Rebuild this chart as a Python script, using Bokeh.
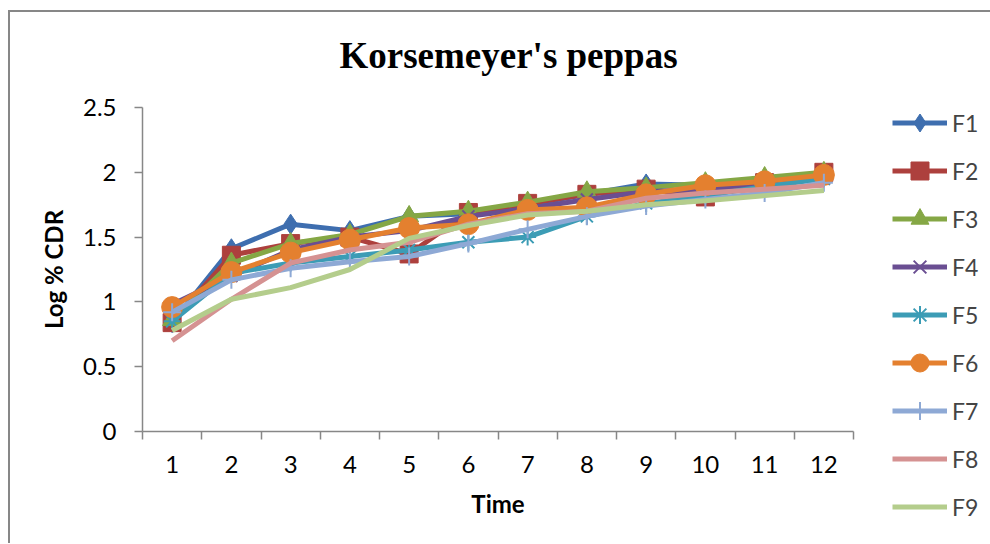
from bokeh.plotting import figure
from bokeh.models import Range1d, FixedTicker, Legend, LegendItem
from bokeh.embed import file_html
from bokeh.resources import INLINE

# ---------------- data ----------------
time = [1, 2, 3, 4, 5, 6, 7, 8, 9, 10, 11, 12]
F1 = [0.84, 1.41, 1.60, 1.55, 1.66, 1.68, 1.75, 1.83, 1.91, 1.90, 1.94, 1.98]
F2 = [0.84, 1.36, 1.45, 1.50, 1.37, 1.69, 1.76, 1.83, 1.87, 1.81, 1.92, 2.00]
F3 = [0.86, 1.30, 1.45, 1.52, 1.66, 1.70, 1.77, 1.85, 1.88, 1.92, 1.96, 2.00]
F4 = [0.98, 1.20, 1.40, 1.50, 1.55, 1.66, 1.72, 1.79, 1.85, 1.87, 1.91, 1.95]
F5 = [0.85, 1.22, 1.30, 1.35, 1.40, 1.46, 1.50, 1.66, 1.76, 1.82, 1.89, 1.95]
F6 = [0.96, 1.23, 1.38, 1.48, 1.57, 1.60, 1.71, 1.73, 1.83, 1.90, 1.93, 1.98]
F7 = [0.92, 1.17, 1.26, 1.31, 1.35, 1.45, 1.56, 1.66, 1.74, 1.79, 1.84, 1.92]
F8 = [0.70, 1.02, 1.30, 1.40, 1.46, 1.60, 1.68, 1.70, 1.80, 1.84, 1.87, 1.90]
F9 = [0.78, 1.02, 1.11, 1.25, 1.49, 1.59, 1.67, 1.70, 1.75, 1.78, 1.82, 1.86]
series_names = ["F1", "F2", "F3", "F4", "F5", "F6", "F7", "F8", "F9"]
series_values = [F1, F2, F3, F4, F5, F6, F7, F8, F9]
y_ticks = [0, 0.5, 1, 1.5, 2, 2.5]
y_tick_labels = ["0", "0.5", "1", "1.5", "2", "2.5"]

# ---------------- styles ----------------
colors = ["#3E6EAF", "#AD403D", "#85A745", "#6A4E92", "#3C9CB5",
          "#E4802F", "#8EA9D5", "#D59292", "#B4CD8C"]
markers = ["diamond", "square", "triangle", "x", "asterisk",
           "circle", "cross", None, None]
msizes = [20, 18, 19, 17, 17, 21, 18, 0, 0]
AX = "#878787"
FONT = "Lato"

p = figure(frame_width=711, frame_height=324,
           min_border_left=132, min_border_right=136,
           min_border_top=95, min_border_bottom=112,
           x_range=Range1d(0.5, 12.5), y_range=Range1d(0, 2.5),
           output_backend="svg", toolbar_location=None,
           background_fill_color="white", border_fill_color="white")
p.styles = {"margin-left": "8px", "margin-top": "10px",
            "border-left": "2px solid #878787", "border-top": "2px solid #878787"}
p.outline_line_color = None
p.xgrid.visible = False
p.ygrid.visible = False

# title
p.title.text = "Korsemeyer's peppas"
p.title.align = "left"
p.title.offset = 197
p.title.standoff = 37
p.title.padding = dict(left=0, right=0, top=0, bottom=13)
p.title.text_font = "Liberation Serif"
p.title.text_font_size = "37px"
p.title.text_font_style = "bold"
p.title.text_color = "black"

# x axis
p.xaxis.ticker = FixedTicker(ticks=time,
                             minor_ticks=[t - 0.5 for t in time] + [time[-1] + 0.5])
p.xaxis.major_tick_out = 0
p.xaxis.major_tick_in = 0
p.xaxis.minor_tick_out = 8
p.xaxis.minor_tick_in = 0
p.xaxis.minor_tick_line_color = AX
p.xaxis.minor_tick_line_width = 1.5
p.xaxis.axis_line_color = AX
p.xaxis.axis_line_width = 1.5
p.xaxis.major_label_standoff = 16
p.xaxis.axis_label = "Time"
p.xaxis.axis_label_standoff = 13

# y axis
p.yaxis.ticker = FixedTicker(ticks=y_ticks, minor_ticks=[])
p.yaxis.major_label_overrides = {t: l for t, l in zip(y_ticks, y_tick_labels)}
p.yaxis.major_tick_out = 8
p.yaxis.major_tick_in = 0
p.yaxis.major_tick_line_color = AX
p.yaxis.major_tick_line_width = 1.5
p.yaxis.minor_tick_line_color = None
p.yaxis.axis_line_color = AX
p.yaxis.axis_line_width = 1.5
p.yaxis.major_label_standoff = 18
p.yaxis.axis_label = "Log % CDR"
p.yaxis.axis_label_standoff = 12

for ax in (p.xaxis, p.yaxis):
    ax.major_label_text_font = FONT
    ax.major_label_text_font_size = "24px"
    ax.major_label_text_color = "black"
    ax.axis_label_text_font = FONT
    ax.axis_label_text_font_size = "24px"
    ax.axis_label_text_font_style = "bold"
    ax.axis_label_text_color = "black"

items = []
for name, vals, c, m, s in zip(series_names, series_values, colors, markers, msizes):
    rs = [p.line(time, vals, line_color=c, line_width=5, line_join="round")]
    if m is not None:
        if m in ("x", "asterisk", "cross"):
            rs.append(p.scatter(time, vals, marker=m, size=s, line_color=c,
                                line_width=2, fill_color=None))
        else:
            rs.append(p.scatter(time, vals, marker=m, size=s, line_color=c,
                                fill_color=c, line_width=1))
    items.append(LegendItem(label=name, renderers=rs))

legend = Legend(items=items, location=(39, -98), orientation="vertical",
                glyph_width=55, glyph_height=45, label_height=45, spacing=3,
                padding=0, margin=0, label_standoff=5,
                label_text_font=FONT, label_text_font_size="23px",
                border_line_alpha=0, background_fill_alpha=0)
p.add_layout(legend, "right")

open("out.html", "w").write(file_html(p, INLINE))
